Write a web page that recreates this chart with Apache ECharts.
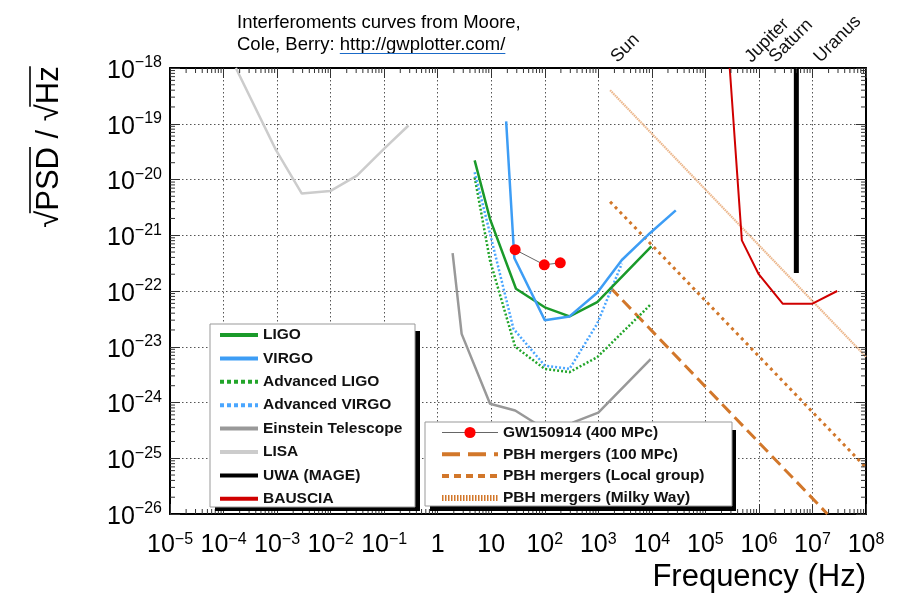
<!DOCTYPE html>
<html><head><meta charset="utf-8">
<script src="https://cdn.jsdelivr.net/npm/echarts@6/dist/echarts.min.js"></script>
<style>html,body{margin:0;padding:0;background:#fff}#c{width:897px;height:599px}</style>
</head><body><div id="c"></div>
<script>
// ---------- data (frequency in Hz, amplitude in 1/sqrt(Hz)) ----------
const xTickExps = [-5,-4,-3,-2,-1,0,1,2,3,4,5,6,7,8];
const yTickExps = [-26,-25,-24,-23,-22,-21,-20,-19,-18];
const minorMult = [2,3,4,5,6,7,8,9];

const ligoF = [4.9, 9.5, 29, 100, 290, 955, 9800];
const ligoH = [2.2e-20, 1.95e-21, 1.1e-22, 5.1e-23, 3.5e-23, 6.3e-23, 6.3e-22];

const virgoF = [19, 27, 100, 290, 955, 2750, 9300, 28000];
const virgoH = [1.1e-19, 3.9e-22, 3.0e-23, 3.5e-23, 9.3e-23, 3.6e-22, 1.1e-21, 2.8e-21];

const aligoF = [4.9, 9.5, 28, 100, 290, 955, 9800];
const aligoH = [1.1e-20, 3.5e-22, 1.0e-23, 4.0e-24, 3.5e-24, 6.5e-24, 5.9e-23];

const avirgoF = [4.9, 9.5, 26, 100, 290, 955, 2750];
const avirgoH = [1.35e-20, 1.07e-21, 2.1e-23, 4.6e-24, 4.0e-24, 2.6e-23, 3.1e-22];

const etF = [1.9, 2.8, 9.5, 28, 160, 340, 1000, 9500];
const etH = [4.8e-22, 1.7e-23, 9.5e-25, 7.2e-25, 2.5e-25, 4.4e-25, 6.6e-25, 6.0e-24];

const lisaF = [1.7e-4, 9.5e-4, 2.9e-3, 9.8e-3, 0.031, 0.098, 0.285];
const lisaH = [1.0e-18, 3.4e-20, 5.6e-21, 6.2e-21, 1.17e-20, 3.5e-20, 9.3e-20];

const uwaF = [5.0e6, 5.0e6];
const uwaH = [1.0e-18, 2.1e-22];

const bausciaF = [2.85e5, 4.8e5, 9.9e5, 2.8e6, 9.8e6, 2.9e7];
const bausciaH = [1.0e-18, 8.1e-22, 2.0e-22, 5.9e-23, 5.9e-23, 1.0e-22];

const gwF = [28, 98, 195];
const gwH = [5.5e-22, 2.95e-22, 3.2e-22];

const pbh100F = [1.66e3, 1.9e7];
const pbh100H = [1.17e-22, 1.0e-26];

const pbhLocalF = [1.66e3, 1.0e8];
const pbhLocalH = [4.0e-21, 6.8e-26];

const pbhMwF = [1.66e3, 1.0e8];
const pbhMwH = [4.0e-19, 6.6e-24];

const planetNames = ['Sun', 'Jupiter', 'Saturn', 'Uranus'];
const planetF = [1.6e3, 5.1e5, 1.45e6, 1.0e7];

const legend1Names = ['LIGO','VIRGO','Advanced LIGO','Advanced VIRGO','Einstein Telescope','LISA','UWA (MAGE)','BAUSCIA'];
const legend2Names = ['GW150914 (400 MPc)','PBH mergers (100 MPc)','PBH mergers (Local group)','PBH mergers (Milky Way)'];

// ---------- chart ----------
const FONT = "'Liberation Sans', Arial, Helvetica, sans-serif";
const L = Math.log10;
const pair = (f, h) => f.map((v, i) => [L(v), L(h[i])]);
const xMin = xTickExps[0], xMax = xTickExps[xTickExps.length - 1];
const yMin = yTickExps[0], yMax = yTickExps[yTickExps.length - 1];

function supLabel(v) {
  const e = Math.round(v);
  if (Math.abs(v - e) > 1e-6) return '';
  if (e === 0) return '{b|1}';
  if (e === 1) return '{b|10}';
  return '{b|10}{s|' + (e < 0 ? '\u2212' : '') + Math.abs(e) + '}';
}
const richX = {
  b: {fontSize: 25, fontFamily: FONT, color: '#000', lineHeight: 26},
  s: {fontSize: 16, fontFamily: FONT, color: '#000', verticalAlign: 'top', lineHeight: 16}
};
const richY = {
  b: {fontSize: 25, fontFamily: FONT, color: '#000', lineHeight: 26, padding: [6, 0, 0, 0]},
  s: {fontSize: 16, fontFamily: FONT, color: '#000', verticalAlign: 'top', lineHeight: 16}
};
function mkAxis(pos, isX, main) {
  return {
    type: 'value', position: pos,
    min: isX ? xMin : yMin, max: isX ? xMax : yMax, interval: 1,
    axisLine: {show: true, onZero: false, lineStyle: {color: '#000', width: 2}},
    axisTick: {show: true, inside: true, length: 10, lineStyle: {color: '#333', width: 1}},
    minorTick: {show: false},
    splitLine: {show: main, lineStyle: {color: '#555', type: [1.5, 2.5], width: 1}},
    axisLabel: {show: main, margin: isX ? 18 : 8, formatter: supLabel, rich: isX ? richX : richY}
  };
}
function line(name, f, h, color, width, type, extra) {
  return Object.assign({
    name, type: 'line', data: pair(f, h), symbol: 'circle', showSymbol: false,
    lineStyle: {color, width, type: type || 'solid'}, itemStyle: {color},
    clip: true, silent: true, animation: false, z: 3
  }, extra || {});
}
// log-spaced minor ticks (drawn through the axis scales)
const minorX = [], minorY = [];
for (let n = xMin; n < xMax; n++) minorMult.forEach(k => minorX.push(n + L(k)));
for (let n = yMin; n < yMax; n++) minorMult.forEach(k => minorY.push(n + L(k)));
const TICKC = '#333';
function tickSeries(vals, isX) {
  return {
    type: 'custom', silent: true, z: 6, clip: false, animation: false,
    data: vals.map(v => [v]),
    renderItem: (params, api) => {
      const v = api.value(0), len = 5;
      if (isX) {
        const b = api.coord([v, yMin]), t = api.coord([v, yMax]);
        return {type: 'group', children: [
          {type: 'line', shape: {x1: b[0], y1: b[1], x2: b[0], y2: b[1] - len}, style: {stroke: TICKC, lineWidth: 1}},
          {type: 'line', shape: {x1: t[0], y1: t[1], x2: t[0], y2: t[1] + len}, style: {stroke: TICKC, lineWidth: 1}}
        ]};
      }
      const l = api.coord([xMin, v]), r = api.coord([xMax, v]);
      return {type: 'group', children: [
        {type: 'line', shape: {x1: l[0], y1: l[1], x2: l[0] + len, y2: l[1]}, style: {stroke: TICKC, lineWidth: 1}},
        {type: 'line', shape: {x1: r[0], y1: r[1], x2: r[0] - len, y2: r[1]}, style: {stroke: TICKC, lineWidth: 1}}
      ]};
    }
  };
}
const ORANGE = '#d2772a';
const series = [
  line('LISA', lisaF, lisaH, '#cccccc', 2.5),
  line('Einstein Telescope', etF, etH, '#999999', 2.5),
  line('PBH mergers (Milky Way)', pbhMwF, pbhMwH, '#ecb88e', 2.2, [1.6, 0.7]),
  line('PBH mergers (Local group)', pbhLocalF, pbhLocalH, ORANGE, 3, [3, 4]),
  line('PBH mergers (100 MPc)', pbh100F, pbh100H, ORANGE, 3, [12, 6]),
  line('Advanced LIGO', aligoF, aligoH, '#22a52a', 2.5, [2, 2]),
  line('Advanced VIRGO', avirgoF, avirgoH, '#4aa6ff', 2.5, [2, 2]),
  line('LIGO', ligoF, ligoH, '#1a9a2a', 2.5),
  line('VIRGO', virgoF, virgoH, '#3d9df5', 2.5),
  line('BAUSCIA', bausciaF, bausciaH, '#d00000', 2),
  line('UWA (MAGE)', uwaF, uwaH, '#000000', 5),
  line('GW150914 (400 MPc)', gwF, gwH, '#666666', 1, 'solid', {
    symbol: 'circle', symbolSize: 11, showSymbol: true,
    itemStyle: {color: '#ff0000', borderWidth: 0}, z: 5
  }),
  tickSeries(minorX, true),
  tickSeries(minorY, false)
];
const legendLine = {
  'LIGO': {width: 4}, 'VIRGO': {width: 4},
  'Advanced LIGO': {width: 4, type: [4, 3]}, 'Advanced VIRGO': {width: 4, type: [4, 3]},
  'Einstein Telescope': {width: 4}, 'LISA': {width: 4}, 'UWA (MAGE)': {width: 4}, 'BAUSCIA': {width: 4},
  'GW150914 (400 MPc)': {width: 1, color: '#666'},
  'PBH mergers (100 MPc)': {width: 4, type: [18, 8]},
  'PBH mergers (Local group)': {width: 4, type: [7, 5]},
  'PBH mergers (Milky Way)': {width: 6, type: [1.5, 1.5], color: ORANGE}
};
const legItem = n => ({
  name: n, lineStyle: legendLine[n],
  itemStyle: n === 'GW150914 (400 MPc)' ? {color: '#ff0000'} : {opacity: 0}
});
const legTxt = {fontFamily: FONT, fontWeight: 'bold', fontSize: 15.5, color: '#111'};
const option = {
  backgroundColor: '#fff',
  animation: false,
  grid: {left: 170, right: 31, top: 68, bottom: 85, containLabel: false},
  xAxis: [mkAxis('bottom', true, true), mkAxis('top', true, false)],
  yAxis: [mkAxis('left', false, true), mkAxis('right', false, false)],
  legend: [
    {data: legend1Names.map(legItem),
     orient: 'vertical', left: 218, top: 327, padding: 0, itemWidth: 38, itemHeight: 14, itemGap: 7.4,
     selectedMode: false, z: 20, textStyle: legTxt},
    {data: legend2Names.map(legItem),
     orient: 'vertical', left: 439, top: 424.5, padding: 0, itemWidth: 56, itemHeight: 14, itemGap: 5.8,
     selectedMode: false, z: 20, textStyle: legTxt}
  ],
  series
};
const chart = echarts.init(document.getElementById('c'), null, {renderer: 'canvas'});
chart.setOption(option);

// ---------- annotations ----------
const ctx = document.createElement('canvas').getContext('2d');
const meas = (t, font) => { ctx.font = font; return ctx.measureText(t).width; };
const tFont = '31px ' + FONT;
const wS = meas('\u221A', tFont), wP = meas('PSD', tFont), wM = meas(' / ', tFont), wH = meas('Hz', tFont);
const tot = 2 * wS + wP + wM + wH;
const ovY = -19;
const topFont = '18.5px ' + FONT;
const wCole = meas('Cole, Berry: ', topFont), wLink = meas('http://gwplotter.com/', topFont);

const planetEls = planetNames.map((n, i) => ({
  type: 'text', id: 'pl' + i, z: 30,
  x: chart.convertToPixel({xAxisIndex: 0}, L(planetF[i])) + 11, y: 66, rotation: Math.PI / 4,
  style: {text: n, font: '18px ' + FONT, fill: '#111', textAlign: 'left', textVerticalAlign: 'bottom'}
}));

chart.setOption({graphic: {elements: [
  {type: 'rect', id: 'l1s', z: 10, shape: {x: 215, y: 331, width: 205, height: 180}, style: {fill: '#000'}},
  {type: 'rect', id: 'l1', z: 11, shape: {x: 210, y: 324, width: 205, height: 183}, style: {fill: '#fff', stroke: '#999', lineWidth: 1}},
  {type: 'rect', id: 'l2s', z: 10, shape: {x: 430, y: 430, width: 306, height: 81}, style: {fill: '#000'}},
  {type: 'rect', id: 'l2', z: 11, shape: {x: 425, y: 422, width: 307, height: 84}, style: {fill: '#fff', stroke: '#999', lineWidth: 1}},
  {type: 'group', id: 'ytitle', z: 30, x: 49, y: 147 + tot / 2, rotation: Math.PI / 2, children: [
    {type: 'text', z: 30, style: {x: 0, y: 0, text: '\u221APSD / \u221AHz', font: tFont, fill: '#000', textAlign: 'left', textVerticalAlign: 'middle'}},
    {type: 'line', z: 30, shape: {x1: wS * 0.85, y1: ovY, x2: wS + wP, y2: ovY}, style: {stroke: '#000', lineWidth: 1.6}},
    {type: 'line', z: 30, shape: {x1: wS * 1.85 + wP + wM, y1: ovY, x2: tot, y2: ovY}, style: {stroke: '#000', lineWidth: 1.6}}
  ]},
  {type: 'text', id: 'xtitle', z: 30, x: 866, y: 577,
   style: {text: 'Frequency (Hz)', font: '31px ' + FONT, fill: '#000', textAlign: 'right', textVerticalAlign: 'middle'}},
  {type: 'text', id: 'h1', z: 30, x: 237, y: 23,
   style: {text: '{a|Interferoments c}{b|urves from Moore,}', textVerticalAlign: 'middle', textAlign: 'left',
     rich: {a: {fontSize: 18.5, fontFamily: FONT, color: '#111'}, b: {fontSize: 18.5, fontFamily: FONT, color: '#444'}}}},
  {type: 'text', id: 'h2', z: 30, x: 237, y: 45,
   style: {text: '{b|Cole, Berry: }{l|http://gwplotter.com/}', textVerticalAlign: 'middle', textAlign: 'left',
     rich: {b: {fontSize: 18.5, fontFamily: FONT, color: '#444'}, l: {fontSize: 18.5, fontFamily: FONT, color: '#1a6ac8'}}}},
  {type: 'line', id: 'ul', z: 30, shape: {x1: 237 + wCole, y1: 53.5, x2: 237 + wCole + wLink, y2: 53.5}, style: {stroke: '#1a6ac8', lineWidth: 1}}
].concat(planetEls)}});
</script>
</body></html>
